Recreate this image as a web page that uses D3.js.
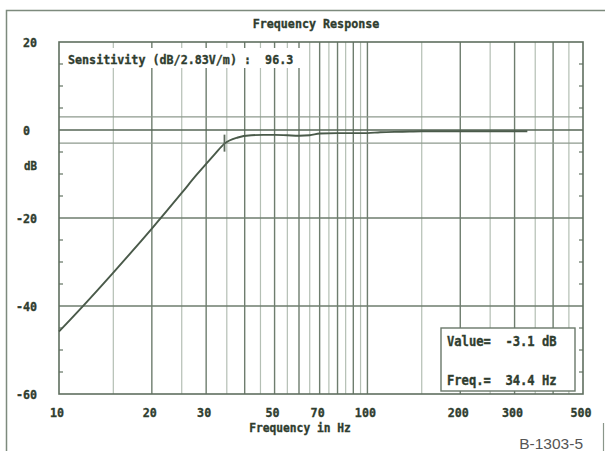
<!DOCTYPE html>
<html>
<head>
<meta charset="utf-8">
<script src="https://cdn.jsdelivr.net/npm/d3@7"></script>
<style>
  html, body { margin: 0; padding: 0; background: #fff; }
  svg { display: block; }
  text { white-space: pre; }
</style>
</head>
<body>
<svg id="chart" width="605" height="451"></svg>
<script>
// Measured response of the driver (Hz, dB)
const freqs  = [10, 12, 15, 20, 25, 28, 30, 32, 34.4, 38, 42, 46, 50, 55, 60, 65, 70, 80, 100, 110, 130, 150, 200, 250, 300, 330];
const levels = [-45.8, -39.9, -32.4, -22.4, -14.3, -10.1, -7.7, -5.5, -3.1, -1.7, -1.2, -1.1, -1.1, -1.2, -1.3, -1.2, -0.8, -0.7, -0.7, -0.5, -0.4, -0.3, -0.3, -0.3, -0.3, -0.3];

const xTickValues = [10, 20, 30, 50, 70, 100, 200, 300, 500];
const yTickValues = [20, 0, -20, -40, -60];
const yMajorGrid  = [0, -20, -40];
const yBandLines  = [3, -3];

const cursorFreq = 34.4;
const cursorValue = -3.1;
const sensitivity = 96.3;

const titleText = "Frequency Response";
const xAxisTitle = "Frequency in Hz";
const yAxisUnit = "dB";
const figureId = "B-1303-5";

const ink = "#2f3d2f";
const gridDark = "#6e7d6e";
const gridLight = "#b4bfb4";
const curveColor = "#4a5a4a";
const mono = "'DejaVu Sans Mono', 'Liberation Mono', monospace";

const svg = d3.select("#chart");

const plot = { left: 59, right: 583, top: 42, bottom: 394 };

const x = d3.scaleLog().domain([10, 500]).range([plot.left, plot.right]);
const y = d3.scaleLinear().domain([-60, 20]).range([plot.bottom, plot.top]);

// Narrow heavy text in the style of a DOS screen font
function label(parent, str, px, py, anchor, size) {
  const sx = 0.9;
  return parent.append("text")
    .attr("transform", `translate(${px},${py}) scale(${sx},1)`)
    .attr("text-anchor", anchor || "start")
    .attr("font-family", mono)
    .attr("font-weight", "bold")
    .attr("font-size", size || 13)
    .attr("fill", ink)
    .attr("stroke", ink)
    .attr("stroke-width", 0.35)
    .text(str);
}

// Outer sheet frame
svg.append("path")
  .attr("d", `M6.5,451 V10.5 H605`)
  .attr("fill", "none").attr("stroke", "#7d8a7d").attr("stroke-width", 1.5);
svg.append("line")
  .attr("x1", 603.5).attr("x2", 603.5).attr("y1", 423).attr("y2", 451)
  .attr("stroke", "#8a968a").attr("stroke-width", 1.2);

// Vertical grid: every 5 Hz up to 100, every 50 Hz above
const gridFreqs = d3.range(15, 100, 5).concat(d3.range(150, 500, 50));
const isMajor = f => (f < 100 ? f % 10 === 0 : f % 100 === 0);

const grid = svg.append("g");
grid.selectAll("line.v")
  .data(gridFreqs)
  .join("line")
  .attr("class", "v")
  .attr("x1", d => x(d)).attr("x2", d => x(d))
  .attr("y1", plot.top).attr("y2", plot.bottom)
  .attr("stroke", d => isMajor(d) ? gridDark : gridLight)
  .attr("stroke-width", d => isMajor(d) ? 1.4 : 1.2);
grid.append("line")
  .attr("x1", x(100)).attr("x2", x(100))
  .attr("y1", plot.top).attr("y2", plot.bottom)
  .attr("stroke", gridDark).attr("stroke-width", 1.4);

// ±3 dB band lines
grid.selectAll("line.band")
  .data(yBandLines)
  .join("line")
  .attr("class", "band")
  .attr("x1", plot.left).attr("x2", plot.right)
  .attr("y1", d => y(d)).attr("y2", d => y(d))
  .attr("stroke", "#8e9a8e").attr("stroke-width", 1.3);

// Horizontal major grid
grid.selectAll("line.h")
  .data(yMajorGrid)
  .join("line")
  .attr("class", "h")
  .attr("x1", plot.left).attr("x2", plot.right)
  .attr("y1", d => y(d)).attr("y2", d => y(d))
  .attr("stroke", d => d === 0 ? "#566656" : gridDark)
  .attr("stroke-width", d => d === 0 ? 1.6 : 1.5);

// Minor dB ticks on both vertical edges
const minorDb = d3.range(-55, 20, 5).filter(d => d % 20 !== 0);
grid.selectAll("line.tl")
  .data(minorDb)
  .join("line")
  .attr("class", "tl")
  .attr("x1", plot.left).attr("x2", plot.left + 4)
  .attr("y1", d => y(d)).attr("y2", d => y(d))
  .attr("stroke", gridDark).attr("stroke-width", 1.3);
grid.selectAll("line.tr")
  .data(minorDb)
  .join("line")
  .attr("class", "tr")
  .attr("x1", plot.right - 4).attr("x2", plot.right)
  .attr("y1", d => y(d)).attr("y2", d => y(d))
  .attr("stroke", gridDark).attr("stroke-width", 1.3);

// Plot frame
svg.append("rect")
  .attr("x", plot.left).attr("y", plot.top)
  .attr("width", plot.right - plot.left).attr("height", plot.bottom - plot.top)
  .attr("fill", "none").attr("stroke", "#5f6f5f").attr("stroke-width", 1.6);

// Response curve
const pts = freqs.map((f, i) => [f, levels[i]]);
svg.append("path")
  .datum(pts)
  .attr("d", d3.line().x(d => x(d[0])).y(d => y(d[1])).curve(d3.curveMonotoneX))
  .attr("fill", "none")
  .attr("stroke", curveColor)
  .attr("stroke-width", 1.9);

// Cursor marker
svg.append("line")
  .attr("x1", x(cursorFreq)).attr("x2", x(cursorFreq))
  .attr("y1", y(cursorValue) - 9).attr("y2", y(cursorValue) + 8)
  .attr("stroke", "#5c6a5c").attr("stroke-width", 1.8);

// Sensitivity banner
svg.append("rect")
  .attr("x", 63).attr("y", 48).attr("width", 242).attr("height", 20)
  .attr("fill", "#fff");
label(svg, `Sensitivity (dB/2.83V/m) :  ${sensitivity.toFixed(1)}`, 68, 64, "start", 13);

// Cursor readout box
svg.append("rect")
  .attr("x", 441).attr("y", 328).attr("width", 134).attr("height", 63)
  .attr("fill", "#fff").attr("stroke", "#6a786a").attr("stroke-width", 1.4);
label(svg, `Value=  ${cursorValue.toFixed(1)} dB`, 447, 346, "start", 13.5);
label(svg, `Freq.=  ${cursorFreq.toFixed(1)} Hz`, 447, 385, "start", 13.5);

// Title
label(svg, titleText, 316, 28, "middle", 13);

// Y tick labels
yTickValues.forEach(v => {
  const s = String(v);
  if (v === 0) label(svg, s, 23, y(v) + 5, "start", 13);
  else label(svg, s, 37, y(v) + 5, "end", 13);
});
label(svg, yAxisUnit, 24, y(-8) + 5, "start", 12);

// X tick labels
xTickValues.forEach(v => {
  label(svg, String(v), x(v) - 2, 417, "middle", 13);
});
label(svg, xAxisTitle, 300, 432, "middle", 12.5);

// Figure number
svg.append("text")
  .attr("x", 583).attr("y", 449)
  .attr("text-anchor", "end")
  .attr("font-family", "'Liberation Sans', Arial, sans-serif")
  .attr("font-size", 15.5)
  .attr("fill", "#555")
  .text(figureId);
</script>
</body>
</html>
